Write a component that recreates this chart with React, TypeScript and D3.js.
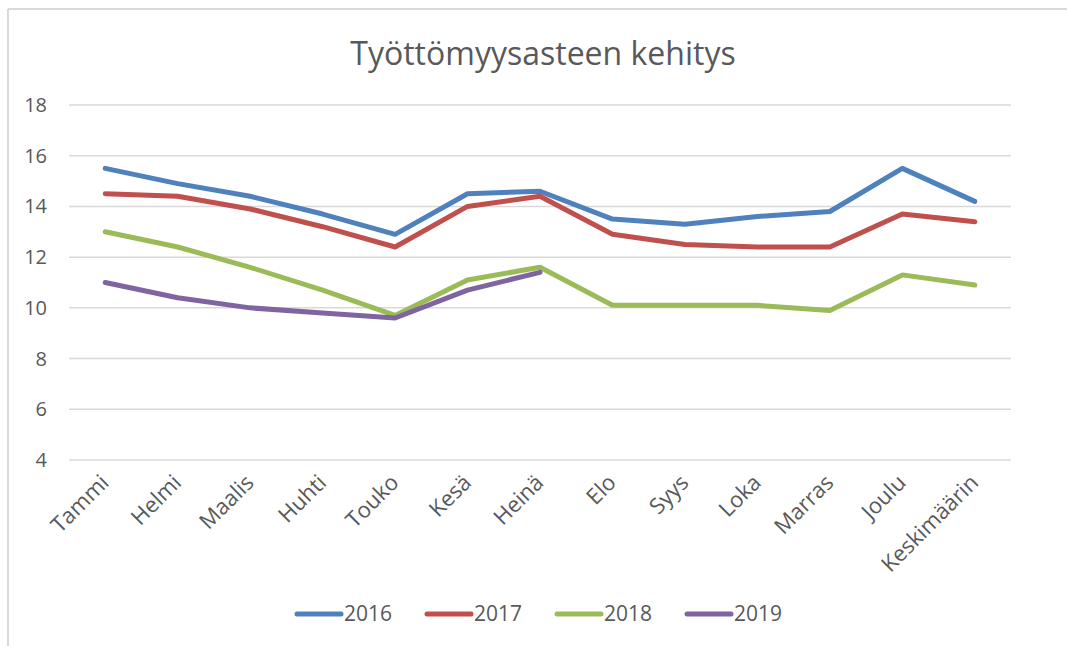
import * as d3 from "d3";

const months = [
  "Tammi", "Helmi", "Maalis", "Huhti", "Touko", "Kesä", "Heinä",
  "Elo", "Syys", "Loka", "Marras", "Joulu", "Keskimäärin",
];

const years = ["2016", "2017", "2018", "2019"];

const v2016 = [15.5, 14.9, 14.4, 13.7, 12.9, 14.5, 14.6, 13.5, 13.3, 13.6, 13.8, 15.5, 14.2];
const v2017 = [14.5, 14.4, 13.9, 13.2, 12.4, 14.0, 14.4, 12.9, 12.5, 12.4, 12.4, 13.7, 13.4];
const v2018 = [13.0, 12.4, 11.6, 10.7, 9.7, 11.1, 11.6, 10.1, 10.1, 10.1, 9.9, 11.3, 10.9];
const v2019 = [11.0, 10.4, 10.0, 9.8, 9.6, 10.7, 11.4];

const yTicks = [4, 6, 8, 10, 12, 14, 16, 18];

const colors = ["#4f81bd", "#c0504d", "#9bbb59", "#8064a2"];

const W = 1067;
const H = 646;
const font = "'Open Sans', 'Liberation Sans', sans-serif";
const textColor = "#595959";

export default function App() {
  const series = [v2016, v2017, v2018, v2019];

  // plot area
  const x = d3.scaleBand<string>().domain(months).range([69, 1011]);
  const y = d3.scaleLinear().domain([4, 18]).range([460, 105]);

  const line = d3
    .line<number>()
    .x((_, i) => x(months[i])! + x.bandwidth() / 2)
    .y((d) => y(d));

  // legend layout
  const legendX = d3.scalePoint<string>().domain(years).range([297, 687]);

  return (
    <svg
      width={W}
      height={H}
      style={{ position: "absolute", left: 0, top: 0, background: "#fff" }}
      fontFamily={font}
    >
      <rect x={0} y={0} width={W} height={H} fill="#fff" />
      {/* outer chart border (only top and left visible in crop) */}
      <line x1={8} y1={9} x2={W} y2={9} stroke="#d9d9d9" strokeWidth={2} />
      <line x1={8} y1={9} x2={8} y2={H} stroke="#d9d9d9" strokeWidth={2} />

      <text x={543} y={65} textAnchor="middle" fontSize={32} fill={textColor}>
        Työttömyysasteen kehitys
      </text>

      {/* gridlines + y labels */}
      {yTicks.map((t) => (
        <g key={t}>
          <line x1={69} x2={1011} y1={y(t)} y2={y(t)} stroke="#d9d9d9" strokeWidth={1.5} />
          <text x={47} y={y(t)} dy="0.35em" textAnchor="end" fontSize={20} fill={textColor}>
            {t}
          </text>
        </g>
      ))}

      {/* x labels rotated */}
      {months.map((m) => {
        const cx = x(m)! + x.bandwidth() / 2;
        return (
          <text
            key={m}
            transform={`translate(${cx + 5},${484}) rotate(-45)`}
            textAnchor="end"
            fontSize={22}
            fill={textColor}
          >
            {m}
          </text>
        );
      })}

      {/* series lines */}
      {series.map((s, i) => (
        <path
          key={years[i]}
          d={line(s)!}
          fill="none"
          stroke={colors[i]}
          strokeWidth={5}
          strokeLinejoin="round"
          strokeLinecap="round"
        />
      ))}

      {/* legend */}
      {years.map((yr, i) => {
        const lx = legendX(yr)!;
        return (
          <g key={yr}>
            <line
              x1={lx}
              x2={lx + 44}
              y1={614}
              y2={614}
              stroke={colors[i]}
              strokeWidth={5}
              strokeLinecap="round"
            />
            <text x={lx + 47} y={614} dy="0.35em" fontSize={21} fill={textColor}>
              {yr}
            </text>
          </g>
        );
      })}
    </svg>
  );
}
